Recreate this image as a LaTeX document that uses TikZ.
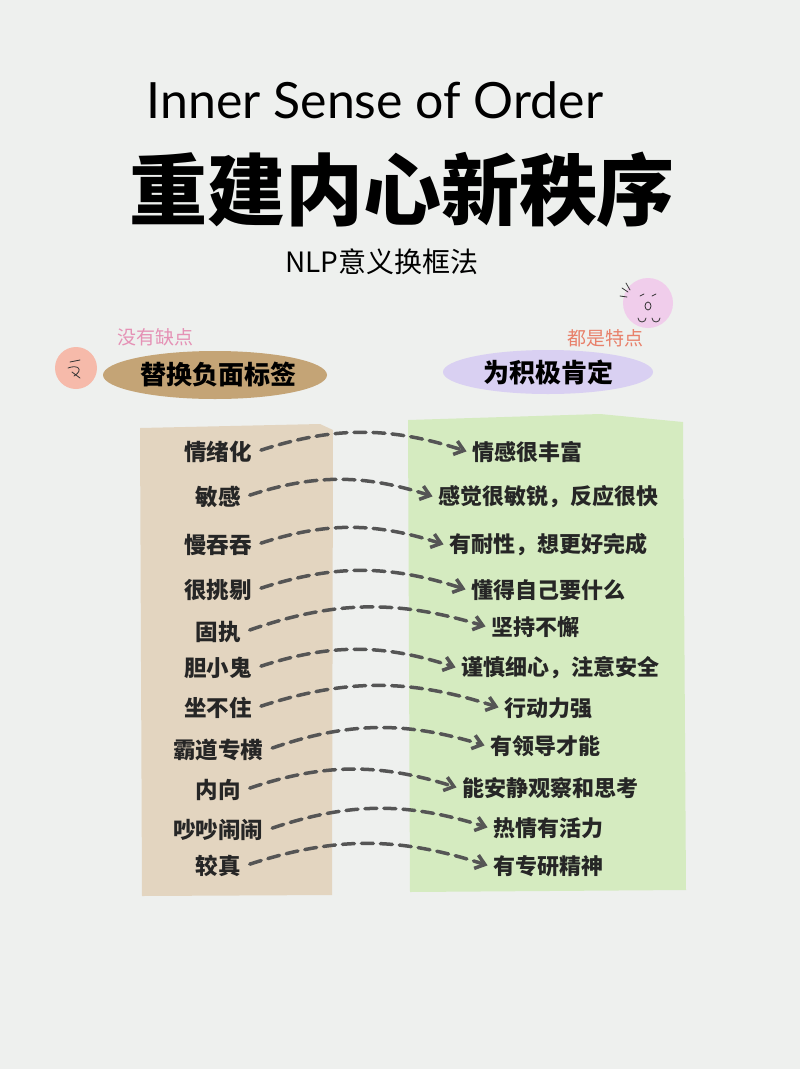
\documentclass[tikz,border=0pt]{standalone}
\usepackage{fontspec}
\setmainfont{Lato}
\newfontfamily\cjk{Noto Sans CJK SC}
\usetikzlibrary{arrows.meta}
\definecolor{bg}{HTML}{EEF0EE}
\definecolor{tanbox}{HTML}{E3D5C0}
\definecolor{greenbox}{HTML}{D5EBC0}
\definecolor{brushtan}{HTML}{C4A476}
\definecolor{brushpurple}{HTML}{D9D0F2}
\definecolor{arr}{HTML}{555555}
\tikzset{
  lt/.style={font=\cjk\bfseries\fontsize{22.5}{25}\selectfont, text=black!85},
  rt/.style={font=\cjk\bfseries\fontsize{22}{25}\selectfont, text=black!85},
  conn/.style={draw=arr, line width=3.5pt, dash pattern=on 12pt off 7pt, line cap=round, -{Straight Barb[length=9pt,width=14pt]}, bend left=18, shorten <=6pt, shorten >=2pt},
  face/.style={draw=black!80, line width=0.8pt, line cap=round},
}
\begin{document}
\begin{tikzpicture}[x=1pt,y=-1pt]
\fill[bg] (0,0) rectangle (800,1069);
\useasboundingbox (0,0) rectangle (800,1069);
\node (t1) at (375,100) {\fontsize{50}{54}\selectfont Inner Sense of Order};
\node (t2) at (402,190) {\cjk\bfseries\fontsize{78}{82}\selectfont 重建内心新秩序};
\node (t3) at (382,262) {\cjk\fontsize{28}{30}\selectfont NLP意义换框法};
% boxes
\fill[tanbox] (140,428) -- (320,424) -- (333,430) -- (332,895) -- (142,896) -- cycle;
\fill[greenbox] (408,420) -- (600,414) -- (683,422) -- (686,890) -- (410,892) -- cycle;
% header brushes
\fill[brushtan] (215,375) ellipse (112 and 24);
\fill[brushpurple] (548,372) ellipse (105 and 22);
\node (h1) at (218,375) {\cjk\bfseries\fontsize{26}{28}\selectfont 替换负面标签};
\node (h2) at (548,372) {\cjk\bfseries\fontsize{26}{28}\selectfont 为积极肯定};
\node (s1) at (155,337) {\cjk\fontsize{19}{20}\selectfont\color[HTML]{E591B5}没有缺点};
\node (s2) at (605,338) {\cjk\fontsize{19}{20}\selectfont\color[HTML]{E8806A}都是特点};
\fill[color={rgb,255:red,246;green,186;blue,170}] (76,368) circle (21);
\draw[face] (70,362) -- (80,360) (68,368) .. controls (78,364) and (84,370) .. (74,376) (72,372) -- (80,378);
\fill[color={rgb,255:red,240;green,205;blue,235}] (648,303) circle (25);
\draw[face] (622,288) -- (628,292) (620,296) -- (627,297) (626,283) -- (630,290);
\draw[face] (640,296) -- (644,294) (652,296) -- (656,294);
\draw[face] (648,306) ellipse (3 and 4);
\draw[face] (638,318) arc (180:0:4) (652,318) arc (180:0:4);
% left labels
\foreach \n/\t/\y in {1/情绪化/452,2/敏感/497,3/慢吞吞/545,4/很挑剔/590,5/固执/632,6/胆小鬼/668,7/坐不住/708,8/霸道专横/750,9/内向/790,10/吵吵闹闹/830,11/较真/866}
  \node[lt] (l\n) at (218,\y) {\t};
\node[rt] (r1) at (527,452) {情感很丰富};
\node[rt] (r2) at (548,497) {感觉很敏锐，反应很快};
\node[rt] (r3) at (548,545) {有耐性，想更好完成};
\node[rt] (r4) at (548,590) {懂得自己要什么};
\node[rt] (r5) at (535,627) {坚持不懈};
\node[rt] (r6) at (560,668) {谨慎细心，注意安全};
\node[rt] (r7) at (548,708) {行动力强};
\node[rt] (r8) at (545,746) {有领导才能};
\node[rt] (r9) at (550,788) {能安静观察和思考};
\node[rt] (r10) at (548,828) {热情有活力};
\node[rt] (r11) at (548,866) {有专研精神};
\foreach \i in {1,...,11} \draw[conn] (l\i.east) to (r\i.west);
\end{tikzpicture}
\end{document}
